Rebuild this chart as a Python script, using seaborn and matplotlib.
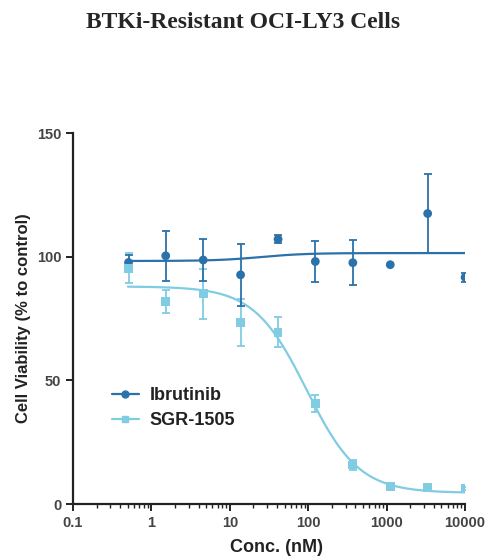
import numpy as np
import pandas as pd
import seaborn as sns
import matplotlib.pyplot as plt
from matplotlib.lines import Line2D
from matplotlib.ticker import LogLocator, FixedLocator, FixedFormatter, NullFormatter

# concentrations (nM), 3-fold dilution
conc = [0.51, 1.52, 4.57, 13.7, 41.2, 123, 370, 1111, 3333, 10000]

ibru_mean = [97.7, 100.4, 98.7, 92.7, 107.1, 98.1, 97.6, 96.8, 117.5, 91.7]
ibru_err = [3.0, 10.0, 8.5, 12.5, 1.6, 8.3, 9.0, 0.0, 16.0, 1.8]

sgr_mean = [95.4, 81.9, 85.0, 73.4, 69.5, 40.7, 15.8, 7.0, 6.6, 6.2]
sgr_err = [6.0, 4.5, 10.0, 9.5, 6.0, 3.4, 2.0, 0.6, 0.5, 0.5]

# 4PL fit parameters (high-conc plateau, low-conc plateau, ic50, hill)
ibru_fit = [101.5, 98.3, 25.0, 1.5]
sgr_fit = [4.5, 88.0, 95.0, 1.3]

dark = '#2c72aa'
light = '#80cce3'


def four_pl(x, bottom, top, ic50, hill):
    return bottom + (top - bottom) / (1 + (x / ic50) ** hill)


sns.set_style('ticks')
plt.rcParams['font.family'] = ['Liberation Sans', 'DejaVu Sans']

fig = plt.figure(figsize=(4.87, 5.56), dpi=100)
ax = fig.add_axes([0.150, 0.0935, 0.805, 0.667])

xs = np.logspace(np.log10(0.5), 4, 300)
curves = pd.concat([
    pd.DataFrame({'conc': xs, 'via': four_pl(xs, *ibru_fit), 'drug': 'Ibrutinib'}),
    pd.DataFrame({'conc': xs, 'via': four_pl(xs, *sgr_fit), 'drug': 'SGR-1505'}),
])
sns.lineplot(data=curves, x='conc', y='via', hue='drug',
             palette={'Ibrutinib': dark, 'SGR-1505': light},
             linewidth=1.6, ax=ax, legend=False)

pts = pd.concat([
    pd.DataFrame({'conc': conc, 'via': ibru_mean, 'err': ibru_err, 'drug': 'Ibrutinib'}),
    pd.DataFrame({'conc': conc, 'via': sgr_mean, 'err': sgr_err, 'drug': 'SGR-1505'}),
])
for drug, col in [('SGR-1505', light), ('Ibrutinib', dark)]:
    d = pts[pts.drug == drug]
    ax.errorbar(d.conc, d.via, yerr=d.err, fmt='none', ecolor=col,
                elinewidth=1.3, capsize=3, capthick=1.3)
sns.scatterplot(data=pts, x='conc', y='via', hue='drug', style='drug',
                markers={'Ibrutinib': 'o', 'SGR-1505': 's'},
                palette={'Ibrutinib': dark, 'SGR-1505': light},
                s=40, edgecolor='none', ax=ax, legend=False, zorder=5)

ax.set_xscale('log')
ax.set_xlim(0.1, 10000)
ax.set_ylim(0, 150)
ax.set_yticks([0, 50, 100, 150])
ax.xaxis.set_major_locator(FixedLocator([0.1, 1, 10, 100, 1000, 10000]))
ax.xaxis.set_major_formatter(FixedFormatter(['0.1', '1', '10', '100', '1000', '10000']))
ax.xaxis.set_minor_locator(LogLocator(base=10, subs=np.arange(2, 10)))
ax.xaxis.set_minor_formatter(NullFormatter())

for s in ['top', 'right']:
    ax.spines[s].set_visible(False)
for s in ['left', 'bottom']:
    ax.spines[s].set_linewidth(1.6)
    ax.spines[s].set_color('#222222')
ax.tick_params(which='major', length=5, width=1.4, colors='#222222',
               labelsize=10.5, labelcolor='#444444')
ax.tick_params(axis='x', which='minor', length=3, width=1.0, colors='#222222')
for lab in ax.get_xticklabels() + ax.get_yticklabels():
    lab.set_fontweight('bold')

ax.set_xlabel('Conc. (nM)', fontsize=13, fontweight='bold', color='#222222')
ax.xaxis.set_label_coords(0.52, -0.095)
ax.set_ylabel('Cell Viability (% to control)', fontsize=12, fontweight='bold',
              labelpad=4, color='#222222')

handles = [
    Line2D([], [], color=dark, marker='o', markersize=5, lw=1.6, label='Ibrutinib'),
    Line2D([], [], color=light, marker='s', markersize=5, lw=1.6, label='SGR-1505'),
]
leg = ax.legend(handles=handles, loc='center left', bbox_to_anchor=(0.057, 0.258),
                frameon=False, handlelength=1.5, handletextpad=0.6,
                fontsize=13, labelspacing=0.45)
for t in leg.get_texts():
    t.set_fontweight('bold')
    t.set_color('#222222')

fig.text(0.5, 0.960, 'BTKi-Resistant OCI-LY3 Cells', ha='center', va='center',
         fontsize=17, fontweight='bold', family=['Liberation Serif', 'DejaVu Serif'])

fig.savefig('out.png', dpi=100)
